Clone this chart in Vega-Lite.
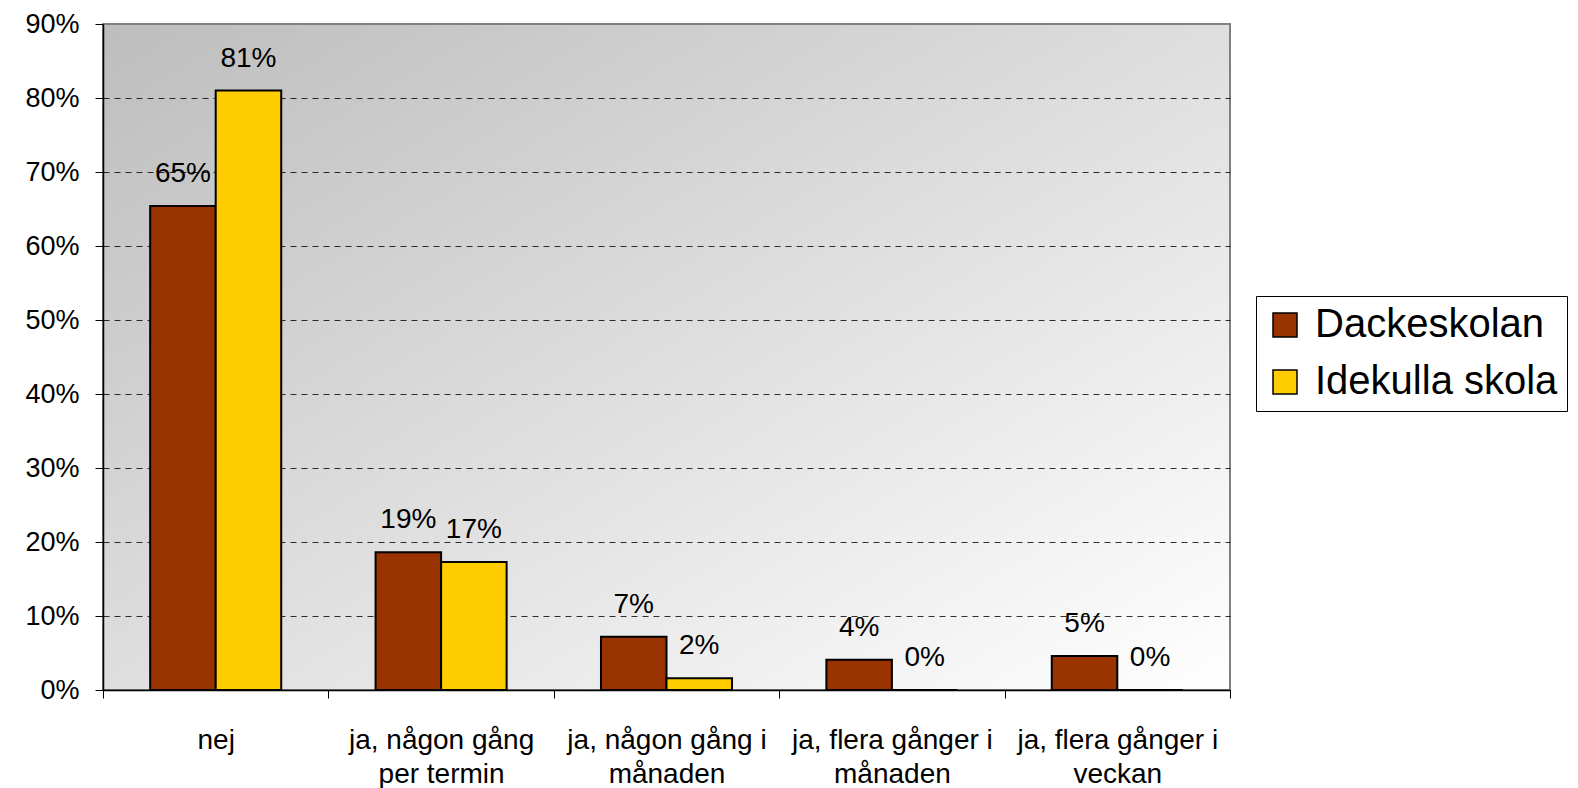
{
  "$schema": "https://vega.github.io/schema/vega-lite/v6.json",
  "width": 1127,
  "height": 666,
  "autosize": {"type": "none"},
  "padding": {"left": 103, "top": 24, "right": 348, "bottom": 98},
  "background": "white",
  "config": {
    "font": "Liberation Sans",
    "view": {
      "stroke": "#808080",
      "strokeWidth": 2,
      "fill": {
        "gradient": "linear",
        "x1": 0, "y1": 0, "x2": 1, "y2": 1,
        "stops": [
          {"offset": 0, "color": "#bdbdbd"},
          {"offset": 1, "color": "#ffffff"}
        ]
      }
    }
  },
  "data": {
    "values": [
      {"category": "nej", "school": "Dackeskolan", "value": 0.654},
      {"category": "nej", "school": "Idekulla skola", "value": 0.81},
      {"category": "ja, någon gång per termin", "school": "Dackeskolan", "value": 0.186},
      {"category": "ja, någon gång per termin", "school": "Idekulla skola", "value": 0.173},
      {"category": "ja, någon gång i månaden", "school": "Dackeskolan", "value": 0.072},
      {"category": "ja, någon gång i månaden", "school": "Idekulla skola", "value": 0.016},
      {"category": "ja, flera gånger i månaden", "school": "Dackeskolan", "value": 0.041},
      {"category": "ja, flera gånger i månaden", "school": "Idekulla skola", "value": 0},
      {"category": "ja, flera gånger i veckan", "school": "Dackeskolan", "value": 0.046},
      {"category": "ja, flera gånger i veckan", "school": "Idekulla skola", "value": 0}
    ]
  },
  "encoding": {
    "x": {
      "field": "category",
      "type": "nominal",
      "sort": null,
      "scale": {"paddingInner": 0, "paddingOuter": 0},
      "axis": {
        "title": null,
        "labelAngle": 0,
        "labelFontSize": 28,
        "labelColor": "#000000",
        "labelLineHeight": 34,
        "labelPadding": 28,
        "labelBaseline": "top",
        "labelLimit": 0,
        "tickBand": "extent",
        "tickSize": 8,
        "tickColor": "#000000",
        "tickWidth": 1,
        "domainColor": "#000000",
        "domainWidth": 1.5,
        "grid": false,
        "labelExpr": "datum.label == 'ja, någon gång per termin' ? ['ja, någon gång', 'per termin'] : datum.label == 'ja, någon gång i månaden' ? ['ja, någon gång i', 'månaden'] : datum.label == 'ja, flera gånger i månaden' ? ['ja, flera gånger i', 'månaden'] : datum.label == 'ja, flera gånger i veckan' ? ['ja, flera gånger i', 'veckan'] : datum.label"
      }
    },
    "xOffset": {"field": "school", "sort": null, "scale": {"paddingInner": 0, "paddingOuter": 0.72}},
    "y": {
      "field": "value",
      "type": "quantitative",
      "scale": {"domain": [0, 0.9]},
      "axis": {
        "title": null,
        "values": [0, 0.1, 0.2, 0.3, 0.4, 0.5, 0.6, 0.7, 0.8, 0.9],
        "format": ".0%",
        "labelFontSize": 27,
        "labelColor": "#000000",
        "labelPadding": 16,
        "tickSize": 8,
        "tickColor": "#000000",
        "domainColor": "#000000",
        "domainWidth": 1.5,
        "grid": true,
        "gridColor": "#000000",
        "gridDash": [6, 5],
        "gridWidth": 1,
        "gridOpacity": {"condition": {"test": "datum.value >= 0.9 || datum.value <= 0", "value": 0}, "value": 0.8}
      }
    }
  },
  "layer": [
    {
      "mark": {"type": "bar", "stroke": "#000000", "strokeWidth": 2},
      "encoding": {
        "color": {
          "field": "school",
          "type": "nominal",
          "scale": {"domain": ["Dackeskolan", "Idekulla skola"], "range": ["#993300", "#ffcc00"]},
          "legend": {
            "title": null,
            "orient": "none",
            "legendX": 1153,
            "legendY": 272,
            "labelFontSize": 40,
            "labelColor": "#000000",
            "labelLimit": 0,
            "symbolType": "square",
            "symbolSize": 576,
            "symbolStrokeColor": "#000000",
            "symbolStrokeWidth": 1.5,
            "symbolOpacity": 1,
            "strokeColor": "#000000",
            "fillColor": "#ffffff",
            "padding": 9,
            "rowPadding": 17,
            "labelOffset": 10
          }
        }
      }
    },
    {
      "mark": {"type": "text", "fontSize": 28, "color": "#000000", "baseline": "alphabetic", "dy": -24},
      "encoding": {
        "text": {"field": "value", "type": "quantitative", "format": ".0%"}
      }
    }
  ]
}
